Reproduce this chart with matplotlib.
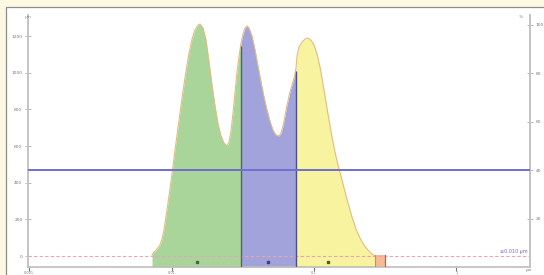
import numpy as np
import matplotlib.pyplot as plt
from matplotlib.patches import Rectangle

# particle size (um) and distribution height
size_um = [0.00730, 0.00754, 0.00791, 0.00830, 0.00858, 0.00886, 0.00945, 0.00992,
           0.01041, 0.01093, 0.01147, 0.01204, 0.01264, 0.01327, 0.01393, 0.01462,
           0.01535, 0.01585, 0.01664, 0.01746, 0.01833, 0.01924, 0.02020, 0.02120,
           0.02225, 0.02336, 0.02452, 0.02533, 0.02616, 0.02702, 0.02791, 0.02882,
           0.02977, 0.03075, 0.03176, 0.03280, 0.03388, 0.03500, 0.03673, 0.03855,
           0.04047, 0.04248, 0.04459, 0.04680, 0.04912, 0.05156, 0.05412, 0.05680,
           0.05867, 0.06060, 0.06259, 0.06465, 0.06785, 0.07008, 0.07238, 0.07476,
           0.07598, 0.07848, 0.08237, 0.08646, 0.09075, 0.09527, 0.10000, 0.10497,
           0.11018, 0.11565, 0.12139, 0.12742, 0.13375, 0.14040, 0.14737, 0.15469,
           0.16238, 0.17320, 0.18478, 0.19712, 0.21029, 0.22433, 0.23931, 0.25529,
           0.26796]
height = [5, 22, 38, 60, 93, 142, 289, 409,
          535, 660, 780, 900, 1009, 1107, 1184, 1233,
          1260, 1266, 1244, 1178, 1058, 933, 818, 720,
          655, 616, 600, 622, 682, 780, 895, 1004,
          1091, 1162, 1211, 1244, 1255, 1244, 1200, 1124,
          1036, 949, 867, 796, 736, 687, 660, 655,
          671, 709, 764, 824, 895, 933, 971, 1026,
          1091, 1140, 1167, 1184, 1189, 1178, 1151, 1102,
          1031, 938, 840, 742, 649, 567, 496, 436,
          371, 289, 213, 147, 98, 60, 33, 11,
          0]

# fraction boundaries (um)
bounds = [0.00730, 0.03075, 0.07476, 0.26796]
frac_colors = ['#a9d59a', '#a2a3da', '#f8f39f']
edge_colors = ['#4f6a4f', '#4a4f86']
mark_colors = ['#3f6a3a', '#3a3f86', '#5a5a20']
frac_marks = [0.01510, 0.04755, 0.12537]
tail = [0.26796, 0.3149]

left_ticks = [0, 200, 400, 600, 800, 1000, 1200]
right_ticks = [20, 40, 60, 80, 100]
x_ticks = [0.001, 0.01, 0.1, 1]
x_labels = ['0.001', '0.01', '0.1', '1']
level_pct = 40

fig = plt.figure(figsize=(5.44, 2.75), dpi=100)
fig.patch.set_facecolor('#fdf8e2')

# white panel behind the chart
bg = fig.add_axes([0, 0, 1, 1], zorder=-10)
bg.set_xlim(0, 544)
bg.set_ylim(275, 0)
bg.axis('off')
bg.add_patch(Rectangle((6, 7), 545, 275, facecolor='white', edgecolor='#8c8c8c', lw=0.9))

ax = fig.add_axes([28 / 544, 8 / 275, 502 / 544, 252 / 275])
ax.set_facecolor('none')
ax.set_xscale('log')
ax.set_xlim(10 ** ((28 - 456.5) / 142.5), 10 ** ((530 - 456.5) / 142.5))
ymin, ymax = -60, 1315
ax.set_ylim(ymin, ymax)

x = np.array(size_um)
y = np.array(height)

# coloured fractions
for i in range(3):
    m = (x >= bounds[i] - 1e-9) & (x <= bounds[i + 1] + 1e-9)
    ax.fill_between(x[m], y[m], ymin, color=frac_colors[i], lw=0, zorder=2)
for i in range(1, 3):
    j = size_um.index(bounds[i])
    ax.plot([bounds[i], bounds[i]], [ymin, height[j] - 15], color=edge_colors[i - 1],
            lw=1.0, zorder=4, solid_capstyle='butt')
ax.plot(x, y, color='#e2bd86', lw=0.8, zorder=3)

# small tail box
ax.fill_between(tail, [5, 5], ymin, color='#f6b992', lw=0, zorder=2)
ax.plot([tail[0], tail[0]], [ymin, 5], color='#d58a5a', lw=0.8, zorder=4)
ax.plot([tail[1], tail[1]], [ymin, 5], color='#c8604a', lw=0.9, zorder=4)

# fraction markers
for xm, c in zip(frac_marks, mark_colors):
    ax.plot([xm], [-35], ls='none', marker='s', ms=2.0, color=c, zorder=5)

# threshold line
ax.axhline(0, color='#e7a4b4', lw=0.8, ls=(0, (3, 2)), zorder=3)
ax.text(0.995, 0.05, '≤0.010 µm', transform=ax.transAxes, ha='right',
        va='bottom', fontsize=3.5, color='#6a6ac8')

ax.spines['top'].set_visible(False)
for s in ['left', 'right']:
    ax.spines[s].set_color('#c4c4c4')
    ax.spines[s].set_linewidth(1.4)
ax.spines['bottom'].set_color('#bdbdbd')
ax.spines['bottom'].set_linewidth(1.2)

ax.set_yticks(left_ticks)
ax.set_yticklabels([str(v) for v in left_ticks])
ax.tick_params(axis='y', direction='inout', length=4, width=0.6, colors='#b0b0b0',
               labelsize=3.2, labelcolor='#777777', pad=2)
ax.set_xticks(x_ticks)
ax.set_xticklabels(x_labels)
ax.xaxis.set_minor_locator(plt.NullLocator())
ax.tick_params(axis='x', direction='out', length=3, width=0.8, colors='#777777',
               labelsize=2.5, labelcolor='#777777', pad=0)
ax.text(-0.006, 1.0, 'µm', transform=ax.transAxes, fontsize=3.2, color='#888888',
        ha='left', va='top')
ax.text(0.992, -0.003, 'µm', transform=ax.transAxes, fontsize=2.8, color='#777777',
        ha='left', va='top')

# percentage axis on the right
ax2 = ax.twinx()
ax2.set_ylim(0, 104.1)
ax2.axhline(level_pct, color='#6f6fcf', lw=1.4, zorder=5)
for s in ['top', 'left', 'bottom']:
    ax2.spines[s].set_visible(False)
ax2.spines['right'].set_color('#c4c4c4')
ax2.spines['right'].set_linewidth(1.4)
ax2.set_yticks(right_ticks)
ax2.set_yticklabels([str(v) for v in right_ticks])
ax2.tick_params(axis='y', direction='inout', length=4, width=0.6, colors='#b0b0b0',
                labelsize=3.2, labelcolor='#777777', pad=2)
ax2.text(0.985, 1.0, '%', transform=ax2.transAxes, fontsize=3.2, color='#888888',
         ha='right', va='top')

fig.savefig('out.png', dpi=100, facecolor=fig.get_facecolor())
